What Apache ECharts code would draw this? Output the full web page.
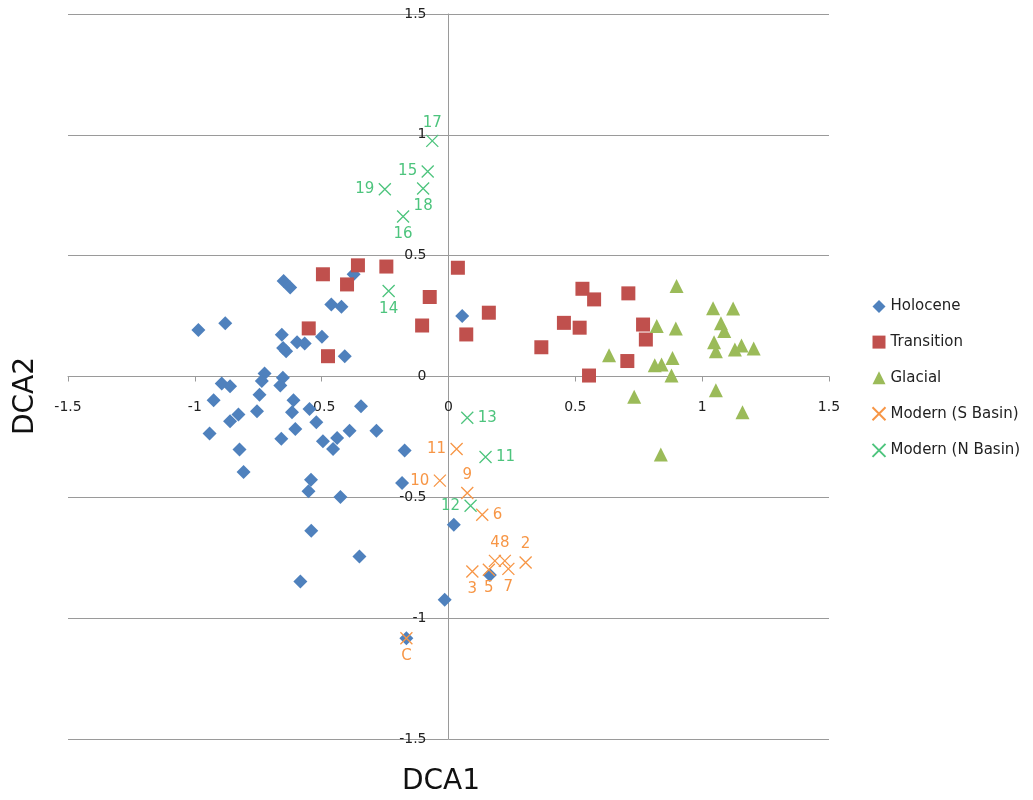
<!DOCTYPE html>
<html>
<head>
<meta charset="utf-8">
<script src="https://cdn.jsdelivr.net/npm/echarts@6/dist/echarts.min.js"></script>
<style>html,body{margin:0;padding:0;background:#fff}#chart{width:1033px;height:800px}</style>
</head>
<body>
<div id="chart"></div>
<script>
// ---- data ----
const seriesNames = ['Holocene', 'Transition', 'Glacial', 'Modern (S Basin)', 'Modern (N Basin)'];
const axisTicks = [-1.5, -1, -0.5, 0, 0.5, 1, 1.5];

const holoceneX = [-0.986,-0.880,-0.650,-0.624,-0.374,-0.462,-0.422,0.054,-0.657,-0.597,-0.567,-0.499,-0.640,-0.652,-0.409,-0.725,-0.736,-0.653,-0.663,-0.894,-0.861,-0.926,-0.745,-0.611,-0.755,-0.617,-0.548,-0.345,-0.828,-0.861,-0.521,-0.942,-0.659,-0.604,-0.390,-0.284,-0.495,-0.439,-0.455,-0.824,-0.173,-0.808,-0.542,-0.552,-0.426,-0.183,0.021,-0.541,-0.351,-0.584,-0.015,-0.166,0.163];
const holoceneY = [0.192,0.220,0.395,0.368,0.423,0.298,0.289,0.250,0.173,0.142,0.137,0.164,0.105,0.118,0.084,0.012,-0.019,-0.005,-0.037,-0.029,-0.040,-0.098,-0.075,-0.098,-0.144,-0.148,-0.134,-0.123,-0.157,-0.185,-0.189,-0.236,-0.258,-0.217,-0.224,-0.224,-0.268,-0.254,-0.300,-0.302,-0.306,-0.395,-0.427,-0.475,-0.499,-0.441,-0.613,-0.638,-0.745,-0.848,-0.924,-1.083,-0.821];

const transitionX = [-0.495,-0.357,-0.245,-0.400,0.037,-0.074,-0.104,0.070,-0.551,-0.475,0.159,0.366,0.528,0.574,0.455,0.517,0.709,0.767,0.778,0.705,0.554];
const transitionY = [0.423,0.460,0.455,0.381,0.450,0.329,0.211,0.174,0.199,0.084,0.264,0.121,0.363,0.319,0.222,0.202,0.344,0.215,0.153,0.064,0.004];

const glacialX = [0.899,1.043,1.122,1.074,1.087,0.821,0.896,1.047,1.054,1.129,1.155,1.203,0.633,0.813,0.840,0.883,0.879,0.732,1.054,1.159,0.837];
const glacialY = [0.374,0.282,0.281,0.220,0.188,0.209,0.199,0.142,0.105,0.112,0.128,0.116,0.088,0.047,0.050,0.077,0.004,-0.084,-0.057,-0.148,-0.323];

const southLabels = ['11','10','9','6','4','8','2','3','5','7','C'];
const southX = [0.032,-0.034,0.074,0.133,0.183,0.222,0.304,0.094,0.159,0.236,-0.166];
const southY = [-0.300,-0.431,-0.482,-0.572,-0.763,-0.763,-0.770,-0.807,-0.800,-0.796,-1.083];

const northLabels = ['13','11','12','14','17','15','18','19','16'];
const northX = [0.074,0.146,0.087,-0.236,-0.064,-0.082,-0.100,-0.251,-0.179];
const northY = [-0.171,-0.333,-0.535,0.354,0.975,0.848,0.778,0.775,0.662];

// ---- label placement (style) ----
const southLabelPos = ['left','left','top','right','top','top','top','bottom','bottom','bottom','bottom'];
const northLabelPos = ['right','right','left','bottom','top','left','bottom','left','bottom'];

const colors = ['#4F81BD', '#C0504D', '#9BBB59', '#F79646', '#4DC47D'];
const crossPath = 'path://M0,0L10,10M0,10L10,0';
const FONT = 'DejaVu Sans';

const GRID = { left: 68, right: 204, top: 14, bottom: 61 };
const W = 1033, H = 800;
const plotW = W - GRID.left - GRID.right;
const plotH = H - GRID.top - GRID.bottom;
const xMin = axisTicks[0], xMax = axisTicks[axisTicks.length - 1];
// shift the axes (with their labels) onto the zero lines, as in the reference
const xAxisOffset = -plotH * (0 - xMin) / (xMax - xMin);
const yAxisOffset = -plotW * (0 - xMin) / (xMax - xMin);

function pts(xs, ys) { return xs.map((x, i) => [x, ys[i]]); }
function labelled(xs, ys, names, pos, color) {
  return xs.map((x, i) => ({
    value: [x, ys[i]],
    name: names[i],
    label: { show: true, position: pos[i], distance: 2, formatter: names[i], color: color, fontFamily: FONT, fontSize: 15 }
  }));
}

const chart = echarts.init(document.getElementById('chart'), null, { renderer: 'canvas' });
const crossStyle = (c) => ({ color: 'none', borderColor: c, borderWidth: 1.3, opacity: 1 });

chart.setOption({
  animation: false,
  backgroundColor: '#ffffff',
  grid: GRID,
  xAxis: {
    type: 'value', min: xMin, max: xMax, interval: 0.5,
    position: 'bottom', offset: xAxisOffset,
    axisLine: { onZero: false, lineStyle: { color: '#9a9a9a', width: 1 } },
    axisTick: { show: true, length: 5, lineStyle: { color: '#9a9a9a' } },
    axisLabel: { margin: 24, color: '#222', fontFamily: FONT, fontSize: 14 },
    splitLine: { show: false }
  },
  yAxis: {
    type: 'value', min: xMin, max: xMax, interval: 0.5,
    position: 'left', offset: yAxisOffset,
    axisLine: { onZero: false, lineStyle: { color: '#9a9a9a', width: 1 } },
    axisTick: { show: false },
    axisLabel: { margin: 22, color: '#222', fontFamily: FONT, fontSize: 14 },
    splitLine: { show: true, lineStyle: { color: '#9a9a9a', width: 1 } }
  },
  legend: {
    orient: 'vertical', left: 865, top: 293,
    itemWidth: 13, itemHeight: 13, itemGap: 18.6,
    textStyle: { color: '#222', fontFamily: FONT, fontSize: 15, lineHeight: 17 },
    data: seriesNames
  },
  graphic: [
    { type: 'text', style: { text: 'DCA1', x: 441, y: 796, textAlign: 'center', textVerticalAlign: 'bottom', fontFamily: FONT, fontSize: 28, fill: '#111' } },
    { type: 'text', style: { text: 'DCA2', x: 0, y: 0, textAlign: 'center', textVerticalAlign: 'middle', fontFamily: FONT, fontSize: 28, fill: '#111' }, x: 26, y: 396, rotation: Math.PI / 2 }
  ],
  series: [
    { name: seriesNames[0], type: 'scatter', symbol: 'diamond', symbolSize: 14, itemStyle: { color: colors[0], opacity: 1 }, data: pts(holoceneX, holoceneY), emphasis: { disabled: true } },
    { name: seriesNames[1], type: 'scatter', symbol: 'rect', symbolSize: 14, itemStyle: { color: colors[1], opacity: 1 }, data: pts(transitionX, transitionY), emphasis: { disabled: true } },
    { name: seriesNames[2], type: 'scatter', symbol: 'triangle', symbolSize: 14, itemStyle: { color: colors[2], opacity: 1 }, data: pts(glacialX, glacialY), emphasis: { disabled: true } },
    { name: seriesNames[3], type: 'scatter', symbol: crossPath, symbolSize: 12, itemStyle: crossStyle(colors[3]), data: labelled(southX, southY, southLabels, southLabelPos, colors[3]), emphasis: { disabled: true } },
    { name: seriesNames[4], type: 'scatter', symbol: crossPath, symbolSize: 12, itemStyle: crossStyle(colors[4]), data: labelled(northX, northY, northLabels, northLabelPos, colors[4]), emphasis: { disabled: true } }
  ]
});
</script>
</body>
</html>
